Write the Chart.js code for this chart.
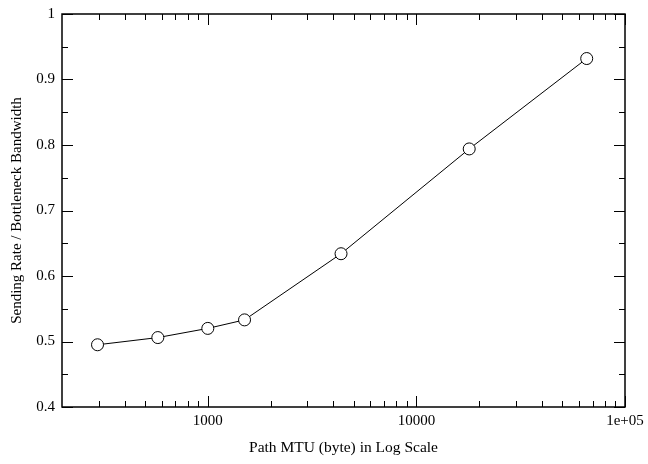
<!DOCTYPE html>
<html>
<head>
<meta charset="utf-8">
<script src="https://cdn.jsdelivr.net/npm/chart.js@4/dist/chart.umd.min.js"></script>
<style>
  html, body { margin: 0; padding: 0; background: #fff; }
  #wrap { width: 648px; height: 464px; }
</style>
</head>
<body>
<div id="wrap"><canvas id="mtuChart" width="648" height="464"></canvas></div>
<script>
// path MTU values (bytes) and measured ratio
var mtuValues = [296, 576, 1000, 1500, 4352, 17914, 65535];
var rateValues = [0.495, 0.506, 0.520, 0.533, 0.634, 0.794, 0.932];

// axis ticks
var xTickValues = [1000, 10000, 100000];
var xTickLabels = ['1000', '10000', '1e+05'];
var xMinorValues = [300, 400, 500, 600, 700, 800, 900,
                    2000, 3000, 4000, 5000, 6000, 7000, 8000, 9000,
                    20000, 30000, 40000, 50000, 60000, 70000, 80000, 90000];
var yTickValues = [0.4, 0.5, 0.6, 0.7, 0.8, 0.9, 1];
var yMinorValues = [0.45, 0.55, 0.65, 0.75, 0.85, 0.95];

var FONT = "'Liberation Serif', 'Times New Roman', serif";

// draws the frame and inward tick marks on all four sides
var frameTicks = {
  id: 'frameTicks',
  afterDatasetsDraw: function (chart) {
    var ctx = chart.ctx, a = chart.chartArea;
    var xs = chart.scales.x, ys = chart.scales.y;
    var MAJ = 11, MIN = 6;
    ctx.save();
    ctx.strokeStyle = '#000';
    ctx.lineWidth = 1;
    ctx.beginPath();
    function vtick(v, len) {
      var px = Math.round(xs.getPixelForValue(v)) + 0.5;
      ctx.moveTo(px, a.bottom); ctx.lineTo(px, a.bottom - len);
      ctx.moveTo(px, a.top); ctx.lineTo(px, a.top + len);
    }
    function htick(v, len) {
      var py = Math.round(ys.getPixelForValue(v)) + 0.5;
      ctx.moveTo(a.left, py); ctx.lineTo(a.left + len, py);
      ctx.moveTo(a.right, py); ctx.lineTo(a.right - len, py);
    }
    xTickValues.forEach(function (v) { vtick(v, MAJ); });
    xMinorValues.forEach(function (v) { vtick(v, MIN); });
    yTickValues.forEach(function (v) { htick(v, MAJ); });
    yMinorValues.forEach(function (v) { htick(v, MIN); });
    ctx.stroke();
    ctx.lineWidth = 1.5;
    ctx.strokeRect(a.left, a.top, a.right - a.left, a.bottom - a.top);
    ctx.restore();
  }
};

new Chart(document.getElementById('mtuChart'), {
  type: 'line',
  data: {
    datasets: [{
      data: mtuValues.map(function (m, i) { return { x: m, y: rateValues[i] }; }),
      borderColor: '#000',
      borderWidth: 1,
      tension: 0,
      fill: false,
      pointStyle: 'circle',
      pointRadius: 6,
      pointBorderWidth: 1,
      pointBorderColor: '#000',
      pointBackgroundColor: '#fff',
      clip: false
    }]
  },
  options: {
    responsive: false,
    animation: false,
    devicePixelRatio: 1,
    layout: { padding: { top: 14, right: 23, left: 0, bottom: 0 } },
    plugins: { legend: { display: false }, tooltip: { enabled: false } },
    scales: {
      x: {
        type: 'logarithmic',
        min: 200,
        max: 100000,
        grid: { display: false, drawTicks: false },
        border: { display: false },
        afterBuildTicks: function (scale) {
          scale.ticks = xTickValues.map(function (v) { return { value: v }; });
        },
        afterFit: function (scale) {
          scale.height = 57;
          scale.paddingLeft = 0;
          scale.paddingRight = 0;
        },
        ticks: {
          autoSkip: false,
          maxRotation: 0,
          padding: 5,
          color: '#000',
          font: { family: FONT, size: 15 },
          callback: function (v, i) { return xTickLabels[i]; }
        },
        title: {
          display: true,
          text: 'Path MTU (byte) in Log Scale',
          color: '#000',
          font: { family: FONT, size: 15.5 },
          padding: { top: 0, bottom: 7 }
        }
      },
      y: {
        min: 0.4,
        max: 1,
        grid: { display: false, drawTicks: false },
        border: { display: false },
        afterBuildTicks: function (scale) {
          scale.ticks = yTickValues.map(function (v) { return { value: v }; });
        },
        afterFit: function (scale) {
          scale.width = 62;
          scale.paddingTop = 0;
          scale.paddingBottom = 0;
        },
        ticks: {
          padding: 7,
          color: '#000',
          font: { family: FONT, size: 15 },
          callback: function (v) { return String(Math.round(v * 10) / 10); }
        },
        title: {
          display: true,
          text: 'Sending Rate / Bottleneck Bandwidth',
          color: '#000',
          font: { family: FONT, size: 15 },
          padding: { top: 8.5, bottom: 0 }
        }
      }
    }
  },
  plugins: [frameTicks]
});
</script>
</body>
</html>
